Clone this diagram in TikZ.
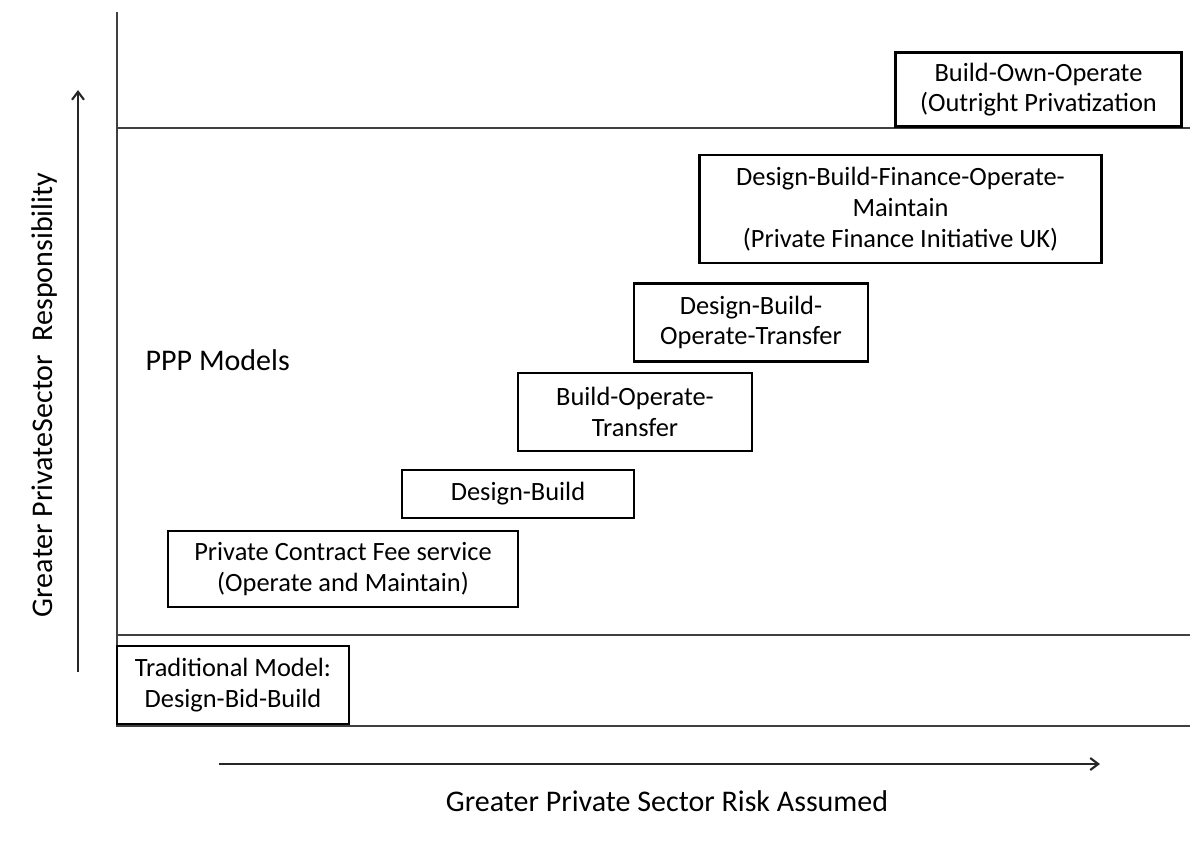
\documentclass[tikz,border=0pt]{standalone}
\usepackage{fontspec}
\setmainfont{Carlito}
\usetikzlibrary{arrows.meta}

\begin{document}
\begin{tikzpicture}[x=0.75pt, y=-0.75pt, >={Straight Barb[length=6pt,width=9pt]},
  model/.style={draw, line width=2.1pt, align=center, inner sep=0pt, font=\fontsize{19.8}{23}\selectfont},
  axislabel/.style={font=\fontsize{22.5}{27}\selectfont},
  band/.style={line width=2pt, draw=black!75}]
\useasboundingbox (0,0) rectangle (1190,840);
% frame and bands
\draw[band] (117,12) -- (117,726) -- (1190,726);
\draw[band] (117,128) -- (1190,128);
\draw[band] (117,635) -- (1190,635);
% axes
\coordinate (ylo) at (78,672); \coordinate (yhi) at (78,90);
\coordinate (xlo) at (219,764); \coordinate (xhi) at (1100,764);
\draw[->, line width=1.6pt, draw=black!85] (ylo) -- (yhi);
\draw[->, line width=1.6pt, draw=black!85] (xlo) -- (xhi);
\node[rotate=90, axislabel] (ylab) at (45,395) {Greater PrivateSector\ \ Responsibility};
\node[axislabel] (xlab) at (667,801) {Greater Private Sector Risk Assumed};
\node[anchor=west, axislabel] (ppp) at (141,360) {PPP Models};
% models
\node[model, minimum width=215pt, minimum height=56pt] (boo) at (1038.5,89.5) {Build-Own-Operate\\(Outright Privatization};
\node[model, minimum width=301pt, minimum height=81pt] (dbfom) at (900.5,209) {Design-Build-Finance-Operate-\\Maintain\\(Private Finance Initiative UK)};
\node[model, minimum width=175.5pt, minimum height=58pt] (dbot) at (751,322.5) {Design-Build-\\Operate-Transfer};
\node[model, minimum width=175.5pt, minimum height=58.5pt] (bot) at (635,412) {Build-Operate-\\Transfer};
\node[model, minimum width=174pt, minimum height=36pt] (db) at (518,494) {Design-Build};
\node[model, minimum width=262.5pt, minimum height=57pt] (pcf) at (343,569) {Private Contract Fee service\\(Operate and Maintain)};
\node[model, minimum width=174pt, minimum height=58.5pt] (dbb) at (233,685) {Traditional Model:\\Design-Bid-Build};
\end{tikzpicture}
\end{document}
